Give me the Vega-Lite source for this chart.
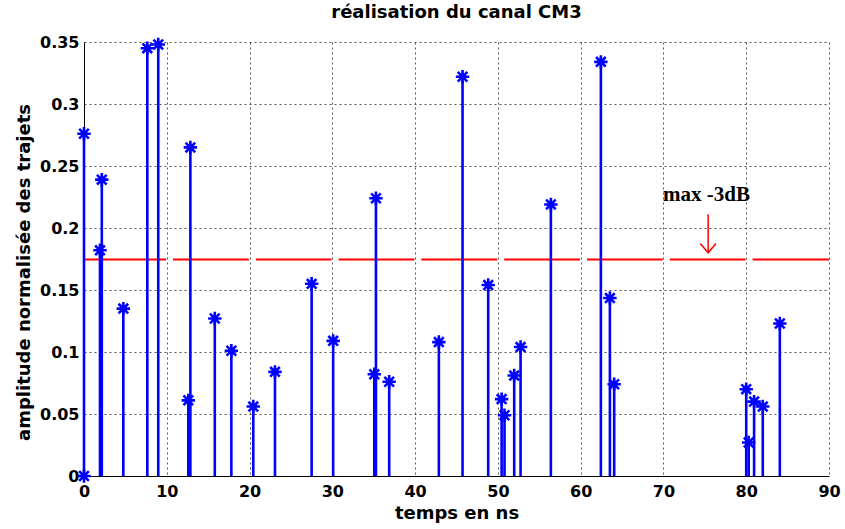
{
  "$schema": "https://vega.github.io/schema/vega-lite/v6.json",
  "width": 745,
  "height": 434,
  "autosize": {"type": "none"},
  "padding": {"left": 84, "top": 42, "right": 16, "bottom": 53},
  "background": "white",
  "title": {"text": "réalisation du canal CM3", "font": "DejaVu Sans", "fontSize": 18, "fontWeight": "bold", "color": "black", "offset": 11},
  "datasets": {
    "stems": [
      {"t": 0, "a": 0.276},
      {"t": 0, "a": 0},
      {"t": 1.93, "a": 0.182},
      {"t": 2.15, "a": 0.239},
      {"t": 4.75, "a": 0.135},
      {"t": 7.65, "a": 0.345},
      {"t": 8.97, "a": 0.348},
      {"t": 12.6, "a": 0.061},
      {"t": 12.85, "a": 0.265},
      {"t": 15.8, "a": 0.127},
      {"t": 17.8, "a": 0.101},
      {"t": 20.45, "a": 0.056},
      {"t": 23.07, "a": 0.084},
      {"t": 27.5, "a": 0.155},
      {"t": 30.1, "a": 0.109},
      {"t": 35.07, "a": 0.082},
      {"t": 35.27, "a": 0.224},
      {"t": 36.87, "a": 0.076},
      {"t": 42.87, "a": 0.108},
      {"t": 45.73, "a": 0.322},
      {"t": 48.83, "a": 0.154},
      {"t": 50.45, "a": 0.062},
      {"t": 50.8, "a": 0.049},
      {"t": 51.97, "a": 0.081},
      {"t": 52.74, "a": 0.104},
      {"t": 56.4, "a": 0.219},
      {"t": 62.44, "a": 0.334},
      {"t": 63.53, "a": 0.1435},
      {"t": 64.05, "a": 0.074},
      {"t": 80.0, "a": 0.07},
      {"t": 80.3, "a": 0.027},
      {"t": 80.95, "a": 0.06},
      {"t": 82.0, "a": 0.056},
      {"t": 84.06, "a": 0.123}
    ],
    "thr": [{"a": 0.1745}],
    "arrowShaft": [{"t": 75.4, "a": 0.211, "a2": 0.180}],
    "arrowHead": [
      {"t": 74.45, "a": 0.1875, "o": 1},
      {"t": 75.4, "a": 0.180, "o": 2},
      {"t": 76.35, "a": 0.1875, "o": 3}
    ],
    "label": [{"t": 75.2, "a": 0.2215, "txt": "max -3dB"}]
  },
  "layer": [
    {
      "data": {"name": "thr"},
      "mark": {"type": "rule", "color": "#ff0000", "strokeWidth": 2, "strokeDash": [82, 7, 75.8, 7, 75.8, 7, 75.8, 7, 75.8, 7, 75.8, 7, 75.8, 7, 75.8, 7, 100]},
      "encoding": {
        "x": {"datum": 0, "type": "quantitative", "scale": {"domain": [0, 90], "nice": false}},
        "x2": {"datum": 90},
        "y": {"field": "a", "type": "quantitative", "scale": {"domain": [0, 0.35], "nice": false}}
      }
    },
    {
      "data": {"name": "stems"},
      "mark": {"type": "rule", "color": "#0000ff", "strokeWidth": 2.6},
      "encoding": {
        "x": {"field": "t", "type": "quantitative", "scale": {"domain": [0, 90], "nice": false},
              "axis": {"values": [0, 10, 20, 30, 40, 50, 60, 70, 80, 90], "title": "temps en ns"}},
        "y": {"field": "a", "type": "quantitative", "scale": {"domain": [0, 0.35], "nice": false},
              "axis": {"values": [0, 0.05, 0.1, 0.15, 0.2, 0.25, 0.3, 0.35], "format": "~g", "title": "amplitude  normalisée des trajets", "titleY": 230}},
        "y2": {"datum": 0}
      }
    },
    {
      "data": {"name": "stems"},
      "mark": {"type": "point", "shape": "M0,-1L0,1M-1,0L1,0M-0.72,-0.72L0.72,0.72M-0.72,0.72L0.72,-0.72", "filled": false, "stroke": "#0000ff", "strokeWidth": 2.6, "size": 180, "opacity": 1},
      "encoding": {
        "x": {"field": "t", "type": "quantitative"},
        "y": {"field": "a", "type": "quantitative"}
      }
    },
    {
      "data": {"name": "arrowShaft"},
      "mark": {"type": "rule", "color": "#ff0000", "strokeWidth": 1.5},
      "encoding": {
        "x": {"field": "t", "type": "quantitative"},
        "y": {"field": "a", "type": "quantitative"},
        "y2": {"field": "a2"}
      }
    },
    {
      "data": {"name": "arrowHead"},
      "mark": {"type": "line", "color": "#ff0000", "strokeWidth": 1.5},
      "encoding": {
        "x": {"field": "t", "type": "quantitative"},
        "y": {"field": "a", "type": "quantitative"},
        "order": {"field": "o"}
      }
    },
    {
      "data": {"name": "label"},
      "mark": {"type": "text", "font": "Liberation Serif", "fontWeight": "bold", "fontSize": 21, "color": "black", "baseline": "alphabetic", "align": "center"},
      "encoding": {
        "x": {"field": "t", "type": "quantitative"},
        "y": {"field": "a", "type": "quantitative"},
        "text": {"field": "txt"}
      }
    }
  ],
  "config": {
    "view": {"stroke": null},
    "axis": {
      "domainColor": "black",
      "domainWidth": 1,
      "grid": true,
      "gridColor": "#444444",
      "gridDash": [2, 3],
      "gridWidth": 1,
      "gridOpacity": 0.9,
      "ticks": false,
      "labelFont": "DejaVu Sans",
      "labelFontWeight": "bold",
      "labelFontSize": 16,
      "labelColor": "black",
      "titleFont": "DejaVu Sans",
      "titleFontWeight": "bold",
      "titleFontSize": 18,
      "titleColor": "black"
    },
    "axisX": {"labelPadding": 7, "titlePadding": 5, "labelFlush": false},
    "axisY": {"labelPadding": 5, "titlePadding": 6}
  }
}
